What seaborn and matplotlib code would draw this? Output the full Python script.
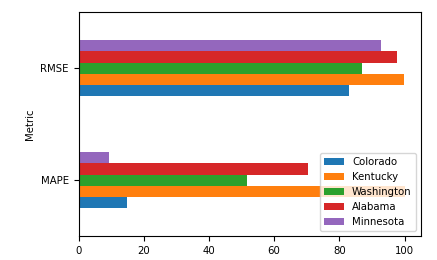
import pandas as pd
import matplotlib
matplotlib.use("Agg")
import matplotlib.pyplot as plt
import seaborn as sns

# values
metrics = ["MAPE", "RMSE"]
states = ["Colorado", "Kentucky", "Washington", "Alabama", "Minnesota"]
mape = [14.9, 100.0, 51.8, 70.4, 9.2]
rmse = [82.9, 99.8, 87.0, 97.7, 92.9]

rows = []
for i, s in enumerate(states):
    rows.append({"Metric": "MAPE", "State": s, "value": mape[i]})
    rows.append({"Metric": "RMSE", "State": s, "value": rmse[i]})
df = pd.DataFrame(rows)

plt.rcParams["font.size"] = 7.3
fig, ax = plt.subplots(figsize=(4.37, 2.60), dpi=100)
sns.barplot(data=df, y="Metric", x="value", hue="State", order=metrics,
            hue_order=states, orient="h", width=0.5, saturation=1,
            palette="tab10", linewidth=0, errorbar=None, ax=ax)

# pandas-style: first category at the bottom
ax.set_ylim(-0.5, 1.5)
ax.set_xlim(0, 105)
ax.set_xlabel("")
ax.set_ylabel("Metric")
ax.legend(loc="lower right", fontsize=7.3)

plt.subplots_adjust(left=0.18, right=0.963, top=0.953, bottom=0.092)
plt.savefig("out.png", dpi=100)
